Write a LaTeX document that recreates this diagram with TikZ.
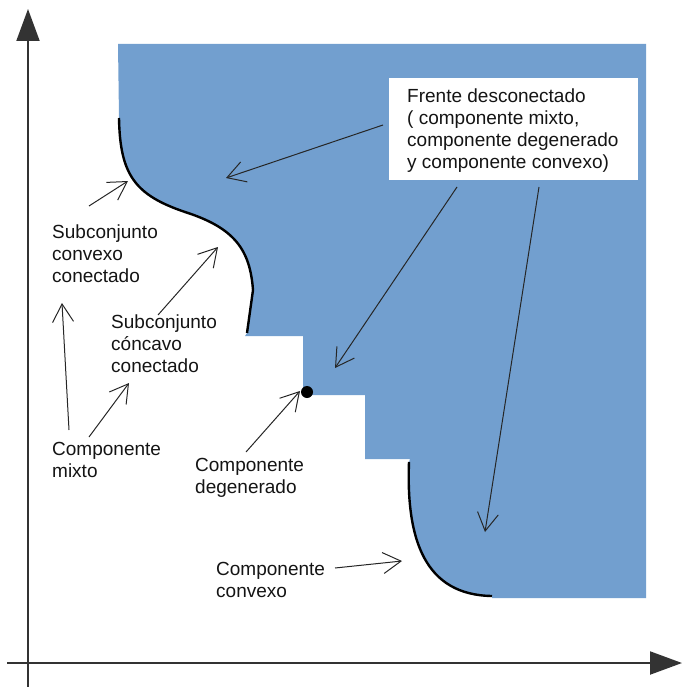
\documentclass[tikz,border=0pt]{standalone}
\usepackage{fontspec}
\setmainfont{Liberation Sans}
\usetikzlibrary{arrows.meta}
\definecolor{skyblue}{HTML}{729FCF}
\begin{document}
\begin{tikzpicture}[x=1pt,y=-1pt,
  % multi-line labels: the base anchor sits on the last line's baseline
  labeltext/.style={font=\fontsize{19}{21.7}\selectfont, align=left, anchor=base west, inner sep=0pt, text=black!92},
  pointer/.style={line width=1pt, draw=black!85, -{Straight Barb[length=18pt,width=21pt,line width=1pt]}},
  axisline/.style={line width=2pt, draw=black!80, -{Triangle[length=32pt,width=23pt]}},
  edgecurve/.style={line width=2.4pt, draw=black}]
\useasboundingbox (0,0) rectangle (682,687);

% feasible region
\fill[skyblue] (118,44) -- (646,44) -- (646,598) -- (492,598) -- (492,596)
  .. controls (425,595) and (406,540) .. (409,462) -- (410,459) -- (365,459)
  -- (365,395) -- (303,395) -- (303,336) -- (245,336) -- (247,333) -- (253,290)
  .. controls (250,250) and (235,228) .. (185,212)
  .. controls (135,195) and (120,175) .. (119,118) -- cycle;

% axes
\draw[axisline] (28,687) -- (28,9);
\draw[axisline] (7,663) -- (682,663);

% front boundaries
\draw[edgecurve] (119,118) .. controls (120,175) and (135,195) .. (185,212)
  .. controls (235,228) and (250,250) .. (253,290) -- (247,333);
\draw[edgecurve] (409,462) .. controls (406,540) and (425,595) .. (492,596);
\node[circle, fill=black, inner sep=0pt, minimum size=12pt] (dot) at (307,392) {};

% legend box
\node[fill=white, anchor=north west, minimum width=249pt, minimum height=102pt, inner sep=0pt] (frente) at (389,78) {};
\node[labeltext] (frentetxt) at (407,168) {Frente desconectado\\( componente mixto,\\componente degenerado\\y componente convexo)};

% labels
\node[labeltext] (convexo) at (52,282) {Subconjunto\\convexo\\conectado};
\node[labeltext] (concavo) at (111,372) {Subconjunto\\cóncavo\\conectado};
\node[labeltext] (mixto) at (52,477) {Componente\\mixto};
\node[labeltext] (degen) at (195,493) {Componente\\degenerado};
\node[labeltext] (convcomp) at (216,597) {Componente\\convexo};

% pointer ends
\coordinate (s1) at (89,206);  \coordinate (t1) at (128,181);
\coordinate (s2) at (158,315); \coordinate (t2) at (218,247);
\coordinate (s3) at (69,430);  \coordinate (t3) at (62,303);
\coordinate (s4) at (89,437);  \coordinate (t4) at (129,383);
\coordinate (s5) at (246,452); \coordinate (t5) at (300,391);
\coordinate (s6) at (335,568); \coordinate (t6) at (402,561);
\coordinate (s7) at (383,125); \coordinate (t7) at (226,178);
\coordinate (s8) at (457,187); \coordinate (t8) at (335,368);
\coordinate (s9) at (539,187); \coordinate (t9) at (485,532);

\foreach \i in {1,...,9} \draw[pointer] (s\i) -- (t\i);
\end{tikzpicture}
\end{document}
